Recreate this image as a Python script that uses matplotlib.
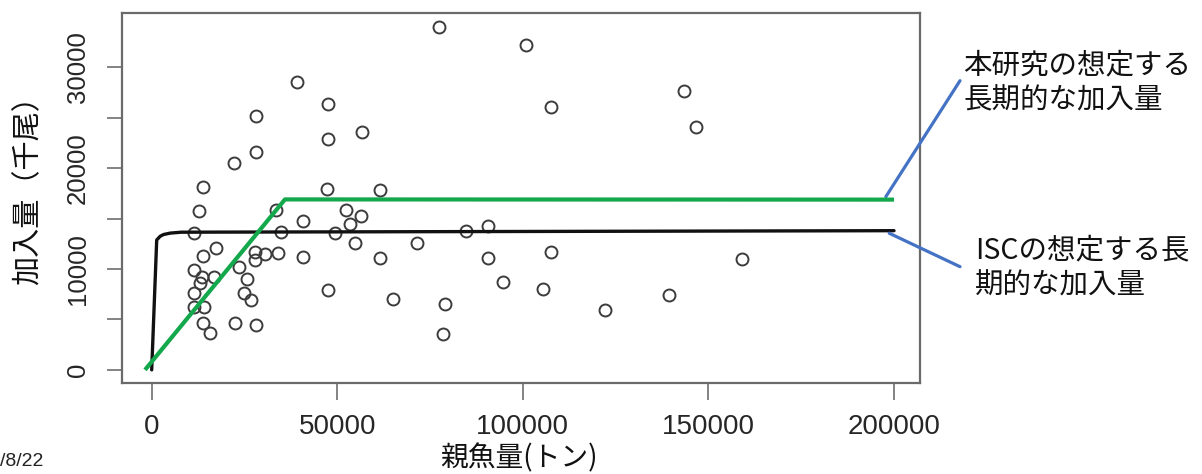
import matplotlib
matplotlib.use("Agg")
import matplotlib.pyplot as plt

# ---------------- data ----------------
spawner = [39060, 47580, 28020, 47500, 56570, 28020, 22250, 13690, 47360, 61500,
           12660, 33570, 52340, 56470, 40680, 53420, 11480, 34970, 49380, 54900,
           17320, 13690, 27960, 30660, 34030, 27910, 40680, 61500, 11320, 23520,
           13550, 16700, 13010, 25670, 11320, 24870, 26750, 47580, 65140, 11530,
           14140, 13820, 15630, 22390, 28180,
           77480, 84670, 90600, 71550, 90680, 78930, 78400, 94720, 100840, 107710,
           143540, 146770, 107490, 105500, 122200, 139360, 159030]
recruit = [28570, 26360, 25170, 22860, 23620, 21630, 20480, 18090, 17910, 17790,
           15780, 15860, 15860, 15260, 14770, 14470, 13550, 13680, 13610, 12590,
           12060, 11330, 11720, 11450, 11600, 10900, 11230, 11070, 9910, 10160,
           9190, 9190, 8590, 9020, 7660, 7660, 6940, 7960, 7040, 6240,
           6210, 4660, 3670, 4630, 4460,
           34020, 13780, 14220, 12560, 11070, 6490, 3540, 8750, 32210, 26030,
           27680, 24050, 11720, 8000, 5900, 7400, 10970]

isc_S = [0, 1350, 2300, 3200, 5000, 8000, 200000]
isc_R = [0, 12880, 13250, 13420, 13560, 13650, 13800]

hs_S = [-1800, 35900, 200000]
hs_R = [0, 16900, 16880]

x_ticks = [0, 50000, 100000, 150000, 200000]
x_ticklabels = ["0", "50000", "100000", "150000", "200000"]
y_ticks = [0, 5000, 10000, 15000, 20000, 25000, 30000]
y_ticklabels = ["0", "", "10000", "", "20000", "", "30000"]

xlabel = "親魚量(トン)"
ylabel = "加入量（千尾）"
note_hs = ["本研究の想定する", "長期的な加入量"]
note_isc = ["ISCの想定する長", "期的な加入量"]
footer = "/8/22"

# leader-line anchor points (data units) at the right end of each curve
hs_anchor = (197800, 17170)
isc_anchor = (198700, 13550)

# ---------------- styling ----------------
W, H = 1202, 474
DPI = 100
jp = ["Noto Sans CJK JP", "DejaVu Sans"]
num = ["Liberation Sans", "DejaVu Sans"]
plt.rcParams["font.family"] = jp

fig = plt.figure(figsize=(W / DPI, H / DPI), dpi=DPI)
fig.patch.set_facecolor("white")
ax = fig.add_axes([122 / W, 1 - 383 / H, (920 - 122) / W, (383 - 13) / H])

ax.plot(spawner, recruit, linestyle="none", marker="o", ms=8.6,
        mfc="none", mec="#3c3c3c", mew=1.4, zorder=2)
ax.plot(isc_S, isc_R, color="#111111", lw=2.4, solid_capstyle="round", zorder=3)
ax.plot(hs_S, hs_R, color="#14a84c", lw=3.0, solid_capstyle="butt", zorder=4)

ax.set_xlim(-8000, 207000)
ax.set_ylim(-1300, 35380)

ax.set_xticks(x_ticks)
ax.set_xticklabels(x_ticklabels, fontfamily=num, fontsize=20, color="#262626")
ax.set_yticks(y_ticks)
ax.set_yticklabels(y_ticklabels, fontfamily=num, fontsize=18.5, color="#262626",
                   rotation=90, va="center")
ax.tick_params(axis="x", length=12, width=1.2, color="#6e6e6e", pad=10)
ax.tick_params(axis="y", length=11, width=1.2, color="#6e6e6e", pad=12)
for sp in ax.spines.values():
    sp.set_color("#6a6a6a")
    sp.set_linewidth(1.6)

# axis titles
fig.text(519 / W, 1 / H, xlabel, ha="center", va="bottom",
         fontsize=20, color="#111111", family=jp)
fig.text(28 / W, 1 - 183 / H, ylabel, ha="center", va="center", rotation=90,
         fontsize=21, color="#111111", family=jp)

# footer fragment
fig.text(0 / W, 1 - 462 / H, footer, ha="left", va="center",
         fontsize=14, color="#222222", family=num)

# annotations
blue = "#4472c4"
ax.annotate("", xy=hs_anchor, xycoords="data",
            xytext=(960, H - 80.7), textcoords="figure pixels",
            arrowprops=dict(arrowstyle="-", color=blue, lw=2.3,
                            shrinkA=0, shrinkB=0),
            annotation_clip=False)
ax.annotate("", xy=isc_anchor, xycoords="data",
            xytext=(960, H - 266.7), textcoords="figure pixels",
            arrowprops=dict(arrowstyle="-", color=blue, lw=2.3,
                            shrinkA=0, shrinkB=0),
            annotation_clip=False)

for line, yc in zip(note_hs, [65, 100]):
    fig.text(963 / W, 1 - yc / H, line, ha="left", va="center",
             fontsize=20.5, color="#111111", family=jp)
for line, yc in zip(note_isc, [250, 286]):
    fig.text(975 / W, 1 - yc / H, line, ha="left", va="center",
             fontsize=20.5, color="#111111", family=jp)

fig.savefig("out.png", dpi=DPI, facecolor="white")
